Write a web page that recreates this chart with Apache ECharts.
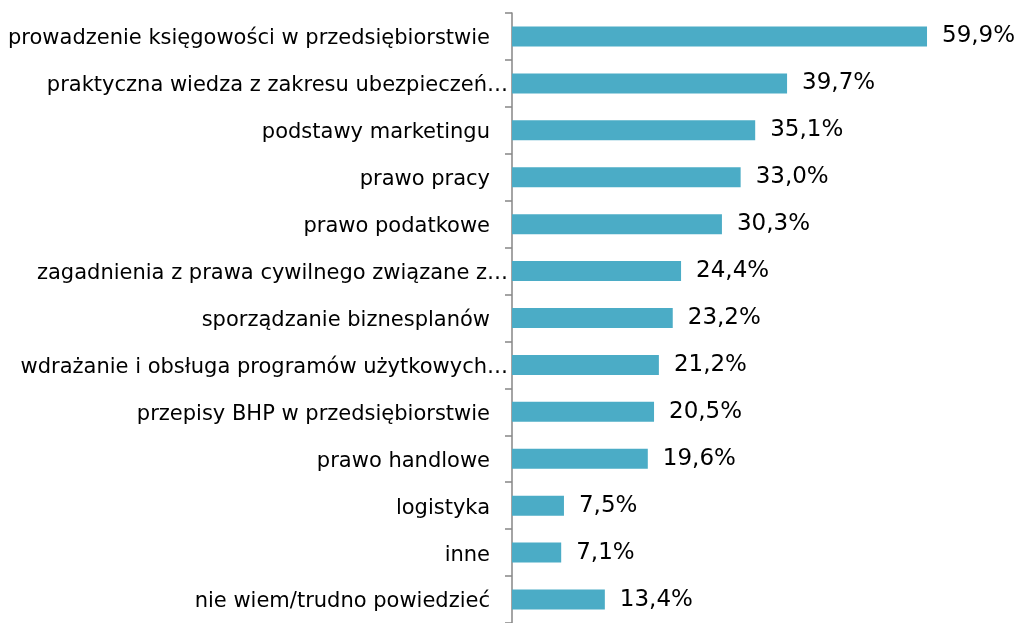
<!DOCTYPE html>
<html>
<head>
<meta charset="utf-8">
<script src="https://cdn.jsdelivr.net/npm/echarts@6/dist/echarts.min.js"></script>
<style>
  html, body { margin: 0; padding: 0; background: #fff; }
  #chart { width: 1021px; height: 623px; }
</style>
</head>
<body>
<div id="chart"></div>
<script>
const categories = [
  "prowadzenie księgowości w przedsiębiorstwie",
  "praktyczna wiedza z zakresu ubezpieczeń…",
  "podstawy marketingu",
  "prawo pracy",
  "prawo podatkowe",
  "zagadnienia z prawa cywilnego związane z…",
  "sporządzanie biznesplanów",
  "wdrażanie i obsługa programów użytkowych…",
  "przepisy BHP w przedsiębiorstwie",
  "prawo handlowe",
  "logistyka",
  "inne",
  "nie wiem/trudno powiedzieć",
];
const values = [59.9, 39.7, 35.1, 33.0, 30.3, 24.4, 23.2, 21.2, 20.5, 19.6, 7.5, 7.1, 13.4];

const chart = echarts.init(document.getElementById("chart"));

const option = {
  animation: false,
  grid: {
    left: 512,
    top: 13,
    right: 24,
    height: 616,
  },
  xAxis: {
    type: "value",
    min: 0,
    max: 70,
    show: false,
  },
  yAxis: {
    type: "category",
    data: categories,
    inverse: true,
    axisLine: {
      lineStyle: { color: "#868686", width: 1.5 },
    },
    axisTick: {
      show: true,
      length: 7,
      lineStyle: { color: "#868686", width: 1.5 },
    },
    axisLabel: {
      margin: 4,
      color: "#000",
      fontFamily: "DejaVu Sans",
      fontSize: 21,
      // labels cut off by "…" sit right at the axis, the others keep a gap
      formatter: function (v) {
        return v.endsWith("…") ? "{b|" + v + "}" : "{a|" + v + "}";
      },
      rich: {
        a: { fontFamily: "DejaVu Sans", fontSize: 21, color: "#000", padding: [5, 18, 0, 0] },
        b: { fontFamily: "DejaVu Sans", fontSize: 21, color: "#000", padding: [5, 0, 0, 0] },
      },
    },
  },
  series: [
    {
      type: "bar",
      data: values,
      barWidth: 20,
      itemStyle: { color: "#4BACC6" },
      label: {
        show: true,
        position: "right",
        distance: 15,
        color: "#000",
        fontFamily: "DejaVu Sans",
        fontSize: 23,
        padding: [3, 0, 0, 0],
        formatter: function (p) {
          return p.value.toFixed(1).replace(".", ",") + "%";
        },
      },
    },
  ],
};

chart.setOption(option);
</script>
</body>
</html>
